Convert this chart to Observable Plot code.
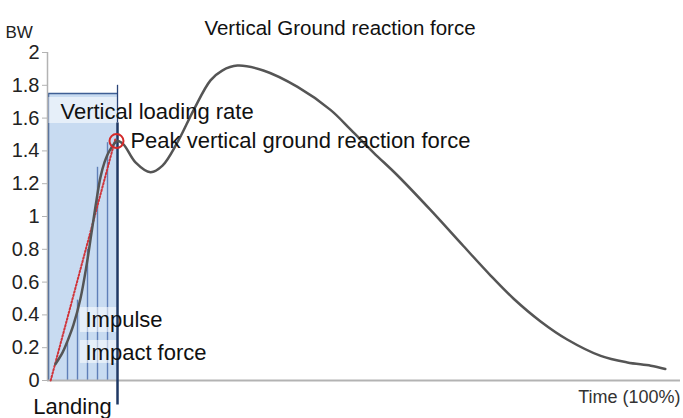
<!DOCTYPE html>
<html>
<head>
<meta charset="utf-8">
<script src="https://cdn.jsdelivr.net/npm/d3@7"></script>
<script src="https://cdn.jsdelivr.net/npm/@observablehq/plot@0.6"></script>
<style>
  html, body { margin: 0; padding: 0; background: #fff; }
  #chart svg { display: block; }
</style>
</head>
<body>
<div id="chart"></div>
<script>
// Time (% of stance) and vertical GRF (BW)
const time  = [1.26, 2.37, 3.16, 4.11, 5.21, 6.16, 6.95, 7.74, 8.37, 9.0, 9.79, 11.06, 12.0, 13.9, 16.27, 18.17, 20.5, 23.1, 25.75, 27.6, 30.0, 34.1, 39.5, 44.7, 47.9, 51.5, 55.3, 60.5, 65.7, 70.0, 73.6, 77.9, 82.1, 87.4, 91.6, 95.3, 97.6];
const force = [0.10, 0.17, 0.24, 0.34, 0.50, 0.70, 0.90, 1.10, 1.24, 1.33, 1.40, 1.46, 1.44, 1.33, 1.27, 1.31, 1.45, 1.65, 1.83, 1.89, 1.92, 1.89, 1.79, 1.65, 1.53, 1.39, 1.25, 1.04, 0.82, 0.64, 0.50, 0.36, 0.25, 0.15, 0.11, 0.09, 0.07];

const yTicks = [0, 0.2, 0.4, 0.6, 0.8, 1, 1.2, 1.4, 1.6, 1.8, 2];

// Landing phase region
const landingStart = 0.16, landingEnd = 11.06, landingTop = 1.75;
// Impulse hatching lines
const impulseTime = [3.16, 4.74, 6.32, 7.90, 9.48];
const impulseTop  = [0.23, 0.49, 0.80, 1.30, 1.45];
// Loading-rate line
const rateTime  = [0.5, 10.7];
const rateForce = [0, 1.47];
// Peak
const peakTime = 10.9, peakForce = 1.46;

// Annotation labels
const labelText  = ["Vertical loading rate", "Peak vertical ground reaction force", "Impulse", "Impact force"];
const labelTime  = [2.05, 13.1, 6.0, 6.0];
const labelForce = [1.64, 1.46, 0.37, 0.17];
// Label background boxes
const boxX1 = [0.2, 5.2, 5.2];
const boxX2 = [34, 18.3, 25.8];
const boxY1 = [1.567, 0.293, 0.104];
const boxY2 = [1.726, 0.445, 0.244];

const curveData = time.map((t, i) => ({t, f: force[i]}));
const labels = labelText.map((s, i) => ({s, t: labelTime[i], f: labelForce[i]}));
const boxes = boxX1.map((x1, i) => ({x1, x2: boxX2[i], y1: boxY1[i], y2: boxY2[i]}));
const font = "'Liberation Sans', Arial, Helvetica, sans-serif";

const chart = Plot.plot({
  width: 683, height: 418,
  marginTop: 52, marginBottom: 38, marginLeft: 47, marginRight: 3,
  x: {domain: [0, 100], axis: null},
  y: {domain: [0, 2], axis: null},
  style: {fontFamily: font, background: "#fff", overflow: "visible"},
  marks: [
    // landing shaded region
    Plot.rect([0], {x1: landingStart, x2: landingEnd, y1: 0, y2: landingTop, fill: "#c8dbf1"}),
    Plot.ruleY([landingTop], {x1: landingStart, x2: landingEnd, stroke: "#3f5f95", strokeWidth: 1.5}),
    Plot.ruleX([landingStart], {y1: 0, y2: landingTop, stroke: "#3f5f95", strokeWidth: 1.5}),
    // impulse hatching
    Plot.ruleX(impulseTime, {x: d => d, y1: 0, y2: (d, i) => impulseTop[i], stroke: "#5f7fb8", strokeWidth: 1.4}),
    // label backgrounds
    Plot.rect(boxes, {x1: "x1", x2: "x2", y1: "y1", y2: "y2", fill: "#fff", fillOpacity: 0.55}),
    // axis lines
    Plot.ruleY([0], {stroke: "#b3b3b3", strokeWidth: 2}),
    Plot.ruleX([0], {y1: 0, y2: 2, stroke: "#b3b3b3", strokeWidth: 1.5}),
    Plot.axisY({ticks: yTicks, tickSize: 5, tickPadding: 3, tickFormat: d3.format("~g"),
                stroke: "#b3b3b3", fill: "#222", fontSize: 20, label: null}),
    // landing end marker
    Plot.ruleX([landingEnd], {y1: 1.57, y2: 1.8, stroke: "#2a4478", strokeWidth: 1.3}),
    Plot.ruleX([landingEnd], {y1: -0.15, y2: 1.57, stroke: "#1f3864", strokeWidth: 2.5}),
    // loading rate line
    Plot.line(rateTime.map((t, i) => ({t, f: rateForce[i]})), {x: "t", y: "f", stroke: "#d0343a", strokeWidth: 2, strokeDasharray: "1.5,2"}),
    // force curve
    Plot.line(curveData, {x: "t", y: "f", curve: "catmull-rom", stroke: "#555", strokeWidth: 2.5}),
    // peak circle
    Plot.dot([0], {x: peakTime, y: peakForce, r: 7, stroke: "#d42a2a", strokeWidth: 2, fill: "none"}),
    // labels
    Plot.text(labels, {x: "t", y: "f", text: "s", textAnchor: "start", fontSize: 22, fill: "#111"}),
    Plot.text(["Landing"], {x: 3.95, y: 0, dy: 26, fontSize: 22, fill: "#111"}),
    Plot.text(["Time (100%)"], {frameAnchor: "bottom-right", dy: 22, textAnchor: "end", fontSize: 18, fill: "#333"}),
    Plot.text(["Vertical Ground reaction force"], {frameAnchor: "top", dx: -24, dy: -32, fontSize: 20.5, fill: "#111"}),
    Plot.text(["BW"], {frameAnchor: "top-left", dx: -42, dy: -27, textAnchor: "start", fontSize: 17, fill: "#222"})
  ]
});
document.getElementById("chart").append(chart);
</script>
</body>
</html>
